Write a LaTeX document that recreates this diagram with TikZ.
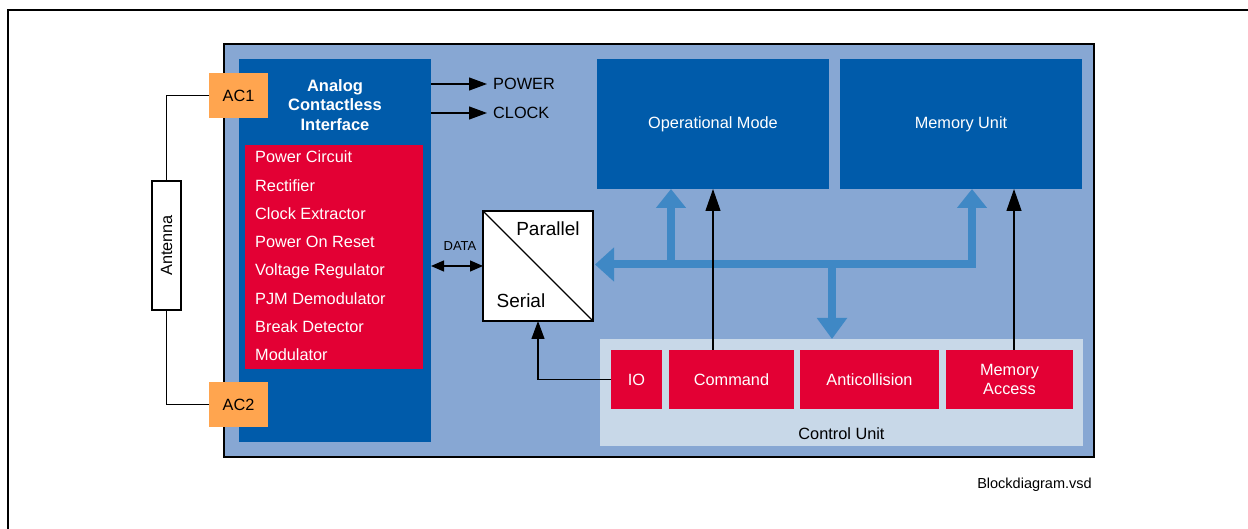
\documentclass[tikz,border=0pt]{standalone}
\usepackage{fontspec}
\setmainfont{Liberation Sans}
\usetikzlibrary{arrows.meta}

\definecolor{chipblue}{HTML}{87A7D3}
\definecolor{deepblue}{HTML}{005BAA}
\definecolor{blockred}{HTML}{E30034}
\definecolor{padorange}{HTML}{FFA54F}
\definecolor{panelblue}{HTML}{C8D8E8}
\definecolor{busblue}{HTML}{3F88C5}

\tikzset{
  blk/.style={inner sep=0pt, outer sep=0pt, minimum width=#1},
  txt/.style={font=\fontsize{16.3}{19}\selectfont},
  wtxt/.style={txt, text=white},
  redbox/.style={fill=blockred, draw=none, wtxt, align=center},
  bluebox/.style={fill=deepblue, draw=none, wtxt},
  pad/.style={fill=padorange, draw=none, txt},
  wire/.style={draw=black, line width=1.2pt},
  sig/.style={wire, -{Triangle[length=18pt,width=13pt]}},
  upsig/.style={wire, -{Triangle[length=22pt,width=15pt]}},
  datasig/.style={wire, {Triangle[length=13pt,width=11pt]}-{Triangle[length=13pt,width=11pt]}},
  bus/.style={draw=busblue, line width=8pt, line join=miter},
  bustip/.style={-{Triangle[length=19pt,width=29pt]}},
  listitem/.style={wtxt, anchor=base west, inner sep=0pt},
}

\begin{document}
\begin{tikzpicture}[x=1pt,y=-1pt]
  \useasboundingbox (0,0) rectangle (1248,529);

  % page frame (open to the right and bottom)
  \draw[line width=2.8pt] (8,531) -- (8,10) -- (1250,10);

  % chip outline
  \node[blk=870pt, minimum height=413pt, fill=chipblue, draw=black, line width=2pt] (chip) at (659,250.5) {};

  % analog contactless interface
  \node[blk=192pt, minimum height=383pt, fill=deepblue] (aci) at (335,250.5) {};
  \node[wtxt, font=\fontsize{16.5}{19.5}\selectfont\bfseries, align=center, inner sep=0pt] (acititle) at (335,105) {Analog\\Contactless\\Interface};
  \node[blk=178pt, minimum height=224pt, fill=blockred] (analog) at (334,257) {};
  \node[listitem] (r1) at (255,163) {Power Circuit};
  \node[listitem] (r2) at (255,192) {Rectifier};
  \node[listitem] (r3) at (255,219.5) {Clock Extractor};
  \node[listitem] (r4) at (255,248) {Power On Reset};
  \node[listitem] (r5) at (255,276) {Voltage Regulator};
  \node[listitem] (r6) at (255,305) {PJM Demodulator};
  \node[listitem] (r7) at (255,333) {Break Detector};
  \node[listitem] (r8) at (255,361) {Modulator};

  % coil pads
  \node[blk=59pt, minimum height=45pt, pad] (ac1) at (238.5,95.5) {AC1};
  \node[blk=59pt, minimum height=45pt, pad] (ac2) at (238.5,404.5) {AC2};

  % antenna
  \node[blk=29pt, minimum height=129pt, fill=white, draw=black, line width=1.2pt] (ant) at (166.5,245.5) {};
  \node[txt, rotate=90, inner sep=0pt] (antlabel) at (ant.center) {Antenna};
  \draw[wire] (ac1.west) -| (ant.north);
  \draw[wire] (ac2.west) -| (ant.south);

  % power and clock outputs
  \node[txt, anchor=west, inner sep=0pt] (pw) at (493,84) {POWER};
  \node[txt, anchor=west, inner sep=0pt] (ck) at (493,113) {CLOCK};
  \draw[sig] (aci.east |- pw.west) -- ([xshift=-6pt]pw.west);
  \draw[sig] (aci.east |- ck.west) -- ([xshift=-6pt]ck.west);

  % serial / parallel converter
  \node[blk=110pt, minimum height=110pt, fill=white, draw=black, line width=1.2pt] (ps) at (538,266) {};
  \draw[wire] (ps.north west) -- (ps.south east);
  \node[txt, font=\fontsize{19}{22}\selectfont, inner sep=0pt] (par) at (548,229) {Parallel};
  \node[txt, font=\fontsize{19}{22}\selectfont, inner sep=0pt] (ser) at (521,301) {Serial};

  % data link
  \node[font=\fontsize{13}{15}\selectfont, inner sep=0pt] (data) at (460,246) {DATA};
  \draw[datasig] (aci.east |- ps.west) -- (ps.west);

  % upper function blocks
  \node[blk=232pt, minimum height=130pt, bluebox] (opmode) at (713,124) {Operational Mode};
  \node[blk=242pt, minimum height=130pt, bluebox] (memunit) at (961,124) {Memory Unit};

  % control unit
  \node[blk=483pt, minimum height=107pt, fill=panelblue] (control) at (841.5,392.5) {};
  \node[txt, inner sep=0pt] (ctrllabel) at ([yshift=12pt]control.south) {Control Unit};
  \node[blk=51pt, minimum height=59pt, redbox] (io) at (636.5,379.5) {IO};
  \node[blk=125pt, minimum height=59pt, redbox] (cmd) at (731.5,379.5) {Command};
  \node[blk=139pt, minimum height=59pt, redbox] (anti) at (869.5,379.5) {Anticollision};
  \node[blk=127pt, minimum height=59pt, redbox, font=\fontsize{16.3}{19.5}\selectfont] (macc) at (1009.5,379.5) {Memory\\Access};

  % internal bus
  \coordinate (busL) at (595,264.5);
  \coordinate (busR) at (972,264.5);
  \coordinate (busA) at (671,264.5);
  \coordinate (busD) at (832,264.5);
  \draw[bus, {Triangle[length=19pt,width=33pt]}-{Triangle[length=19pt,width=29pt]}]
    (busL) -- (busR) -- (busR |- memunit.south);
  \draw[bus, bustip] ([yshift=4pt]busA) -- (busA |- opmode.south);
  \draw[bus, -{Triangle[length=21pt,width=29pt]}] ([yshift=-4pt]busD) -- (busD |- control.north);

  % control signals
  \draw[upsig] (cmd.north -| opmode.south) -- (opmode.south);
  \draw[upsig] ([xshift=4.5pt]macc.north) -- ([xshift=4.5pt]macc.north |- memunit.south);
  \draw[sig] (io.west) -| (ps.south);

  % file name
  \node[font=\fontsize{14.5}{17}\selectfont, inner sep=0pt] (fname) at (1034.5,485) {Blockdiagram.vsd};
\end{tikzpicture}
\end{document}
